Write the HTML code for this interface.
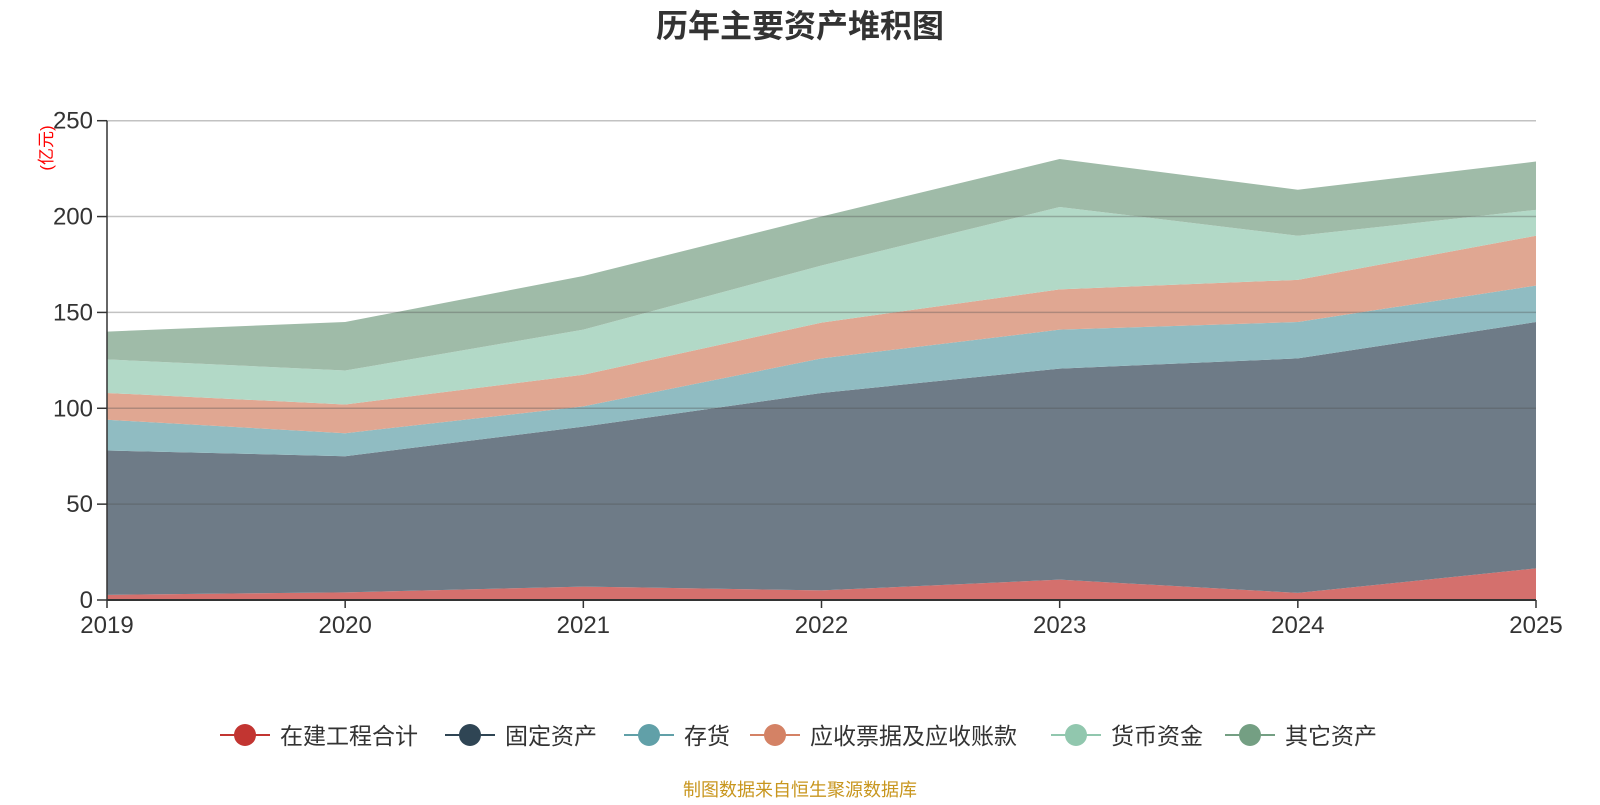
<!DOCTYPE html>
<html><head><meta charset="utf-8">
<style>
body{margin:0;background:#fff;width:1600px;height:800px;overflow:hidden;font-family:"Liberation Sans","Noto Sans CJK SC",sans-serif;}
</style></head>
<body>
<svg id="chart" width="1600" height="800" xmlns="http://www.w3.org/2000/svg">
<text x="800" y="37" text-anchor="middle" font-size="32" font-weight="bold" fill="#333" font-family="Liberation Sans,Noto Sans CJK SC,sans-serif">历年主要资产堆积图</text>
<text transform="translate(52,148) rotate(-90)" text-anchor="middle" font-size="17" fill="#ff0000" font-family="Liberation Sans,Noto Sans CJK SC,sans-serif">(亿元)</text>
<g id="areas"></g><g id="grid"></g><g id="axes"></g><g id="legend"></g>
<text x="800" y="796" text-anchor="middle" font-size="18" fill="#c8961e" font-family="Liberation Sans,Noto Sans CJK SC,sans-serif">制图数据来自恒生聚源数据库</text>
</svg>
<script>
const years=['2019','2020','2021','2022','2023','2024','2025'];
const seriesNames=['在建工程合计','固定资产','存货','应收票据及应收账款','货币资金','其它资产'];
const cip=[2.7,4,7,5,10.6,3.7,16.5];
const fixed=[75.3,71,83.4,103,110.1,122.3,128.5];
const inventory=[16,12,10.6,18,20.3,19,19];
const receivables=[14,15,16.5,18.7,21,22,26];
const cash=[17.5,17.7,23.5,29.8,43,23,13.5];
const other=[14.5,25.3,28,25.5,25,24,25.2];
const yTicks=[0,50,100,150,200,250];
const series=[cip,fixed,inventory,receivables,cash,other];
const fills=['#d4706d','#6e7b87','#90bcc2','#e0a792','#b2d9c7','#9fbba8'];
const lineColors=['#c23531','#2f4554','#61a0a8','#d48265','#91c7ae','#749f83'];
const X0=107,X1=1536,Y0=600,Y1=120.7,YMAX=250;
const xs=i=>X0+(X1-X0)*i/(years.length-1);
const ys=v=>Y0-(Y0-Y1)*v/YMAX;
const NS='http://www.w3.org/2000/svg';
function mk(t,a){const e=document.createElementNS(NS,t);for(const k in a)e.setAttribute(k,a[k]);return e;}
const areas=document.getElementById('areas');
let base=years.map(()=>0);
series.forEach((s,si)=>{
  const top=base.map((b,i)=>b+s[i]);
  let d='M'+years.map((_,i)=>xs(i)+','+ys(top[i])).join('L');
  for(let i=years.length-1;i>=0;i--)d+='L'+xs(i)+','+ys(base[i]);
  d+='Z';
  const p=mk('path',{d:d,fill:fills[si]});
  
  
  areas.appendChild(p);
  base=top;
});
const grid=document.getElementById('grid');
const axes=document.getElementById('axes');
yTicks.forEach(t=>{
  if(t>0){const l=mk('line',{x1:X0,x2:X1,y1:ys(t),y2:ys(t),stroke:'rgba(80,80,80,0.35)','stroke-width':1.5});
  
  
  grid.appendChild(l);}
  const tk=mk('line',{x1:X0-10,x2:X0,y1:ys(t),y2:ys(t),stroke:'#333','stroke-width':1.5});
  
  
  axes.appendChild(tk);
  const tx=mk('text',{x:X0-14,y:ys(t)+8,'text-anchor':'end','font-size':24,fill:'#333','font-family':'Liberation Sans,sans-serif'});
  tx.textContent=t;
  
  
  axes.appendChild(tx);
});
const ya=mk('line',{x1:X0,x2:X0,y1:Y1,y2:Y0,stroke:'#333','stroke-width':1.5});


axes.appendChild(ya);
const xa=mk('line',{x1:X0,x2:X1,y1:Y0,y2:Y0,stroke:'#333','stroke-width':2});


axes.appendChild(xa);
years.forEach((y,i)=>{
  const tk=mk('line',{x1:xs(i),x2:xs(i),y1:Y0,y2:Y0+8,stroke:'#333','stroke-width':1.5});
  
  
  axes.appendChild(tk);
  const tx=mk('text',{x:xs(i),y:Y0+33,'text-anchor':'middle','font-size':24,fill:'#333','font-family':'Liberation Sans,sans-serif'});
  tx.textContent=y;
  
  
  axes.appendChild(tx);
});
const legend=document.getElementById('legend');
const lx=[245,470,649,775,1076,1250];
seriesNames.forEach((n,i)=>{
  const g=mk('g',{});
  
  
  g.appendChild(mk('line',{x1:lx[i]-25,x2:lx[i]+25,y1:735,y2:735,stroke:lineColors[i],'stroke-width':2}));
  g.appendChild(mk('circle',{cx:lx[i],cy:735,r:11,fill:lineColors[i]}));
  const t=mk('text',{x:lx[i]+35,y:744,'font-size':23,fill:'#333','font-family':'Liberation Sans,Noto Sans CJK SC,sans-serif'});
  t.textContent=n;
  g.appendChild(t);
  legend.appendChild(g);
});
</script>
</body></html>
